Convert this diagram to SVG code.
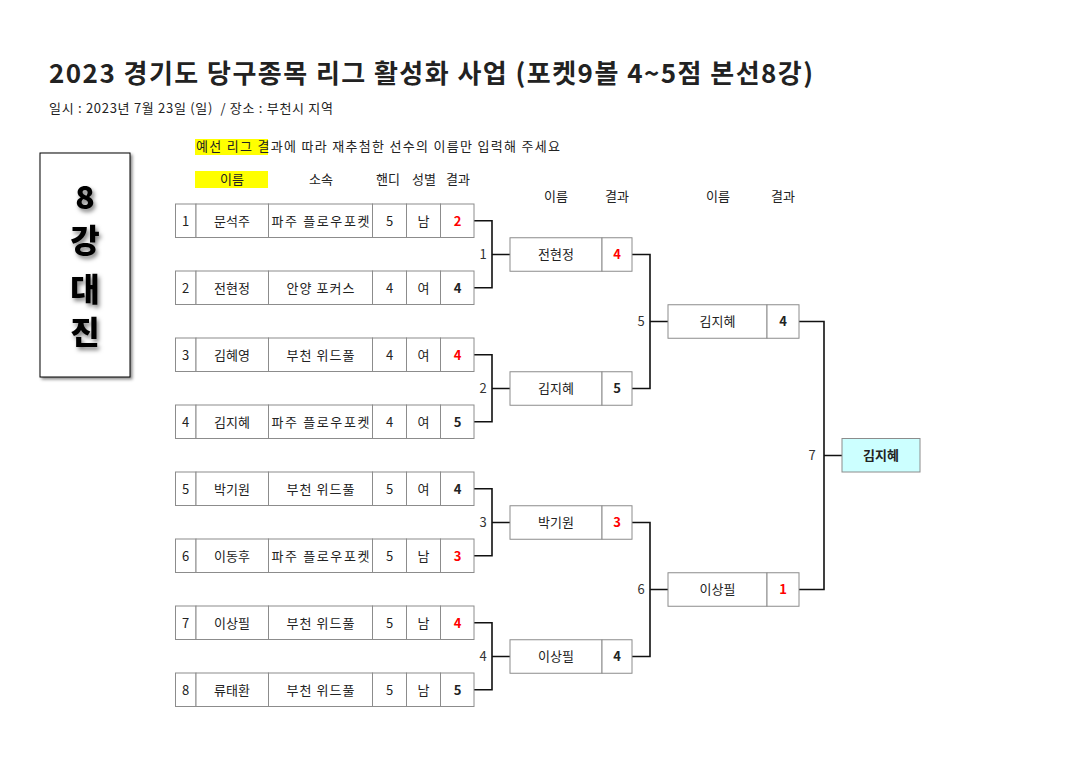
<svg xmlns="http://www.w3.org/2000/svg" width="1086" height="768" viewBox="0 0 1086 768">
<style>
text{font-family:"Noto Sans CJK KR","Noto Sans",sans-serif;fill:#222}
.t{font-size:13px;text-anchor:middle}
.b{font-weight:bold}
.r{fill:#ff0000}
.cell{fill:#fff;stroke:#8c8c8c;stroke-width:1}
.con{fill:none;stroke:#111;stroke-width:1.6}
.lbl{font-size:13px;text-anchor:middle;fill:#333}
.big{font-size:32px;font-weight:900;text-anchor:middle;fill:#000}
</style>
<defs>
<filter id="bs" x="-20%" y="-20%" width="140%" height="140%"><feDropShadow dx="2" dy="2" stdDeviation="1.5" flood-color="#000" flood-opacity="0.45"/></filter>
<filter id="ts" x="-30%" y="-30%" width="160%" height="160%"><feDropShadow dx="2" dy="3" stdDeviation="2" flood-color="#000" flood-opacity="0.5"/></filter>
</defs>
<rect width="1086" height="768" fill="#fff"/>
<text x="49" y="83" font-size="26" font-weight="bold" fill="#000" textLength="764" lengthAdjust="spacing">2023 경기도 당구종목 리그 활성화 사업 (포켓9볼 4~5점 본선8강)</text>
<text x="49" y="113" font-size="13" textLength="284" lengthAdjust="spacing" xml:space="preserve">일시 : 2023년 7월 23일 (일)  / 장소 : 부천시 지역</text>

<g id="title-box">
<rect x="40" y="153" width="90" height="224" fill="#fff" stroke="#000" stroke-width="1" filter="url(#bs)"/>
<g filter="url(#ts)">
<text class="big" x="85" y="209">8</text>
<text class="big" x="85" y="252">강</text>
<text class="big" x="85" y="300.5">대</text>
<text class="big" x="85" y="343.5">진</text>
</g>
</g>

<g id="headers">
<rect x="195" y="139" width="73" height="16" fill="#ffff00"/>
<text x="196" y="151" font-size="13" textLength="364" lengthAdjust="spacing">예선 리그 결과에 따라 재추첨한 선수의 이름만 입력해 주세요</text>
<rect x="195" y="171" width="73" height="17" fill="#ffff00"/>
<text class="t" x="232" y="184">이름</text>
<text class="t" x="321" y="184">소속</text>
<text class="t" x="388" y="184">핸디</text>
<text class="t" x="424" y="184">성별</text>
<text class="t" x="458" y="184">결과</text>
<text class="t" x="556" y="201">이름</text>
<text class="t" x="617" y="201">결과</text>
<text class="t" x="718" y="201">이름</text>
<text class="t" x="783" y="201">결과</text>
</g>

<g id="connectors">
<path class="con" d="M474 220.75H492V287.75H474M492 254.5H510"/>
<path class="con" d="M474 354.75H492V421.75H474M492 388.5H510"/>
<path class="con" d="M474 488.75H492V555.75H474M492 522.5H510"/>
<path class="con" d="M474 622.75H492V689.75H474M492 656.5H510"/>
<path class="con" d="M632 254.5H650V388.5H632M650 321.5H668"/>
<path class="con" d="M632 522.5H650V656.5H632M650 589.5H668"/>
<path class="con" d="M799 321.5H824V589.5H799M824 455.5H842"/>
<text class="lbl" x="483" y="259">1</text>
<text class="lbl" x="483" y="393">2</text>
<text class="lbl" x="483" y="527">3</text>
<text class="lbl" x="483" y="661">4</text>
<text class="lbl" x="641" y="326">5</text>
<text class="lbl" x="641" y="594">6</text>
<text class="lbl" x="812" y="460">7</text>
</g>

<g id="p1" transform="translate(0,204)">
<rect class="cell" x="175.5" y="0" width="20.5" height="33.5"/><rect class="cell" x="196" y="0" width="72.5" height="33.5"/><rect class="cell" x="268.5" y="0" width="104" height="33.5"/><rect class="cell" x="372.5" y="0" width="34" height="33.5"/><rect class="cell" x="406.5" y="0" width="34" height="33.5"/><rect class="cell" x="440.5" y="0" width="33.5" height="33.5"/>
<text class="t" x="185.5" y="21.5">1</text><text class="t" x="232" y="21.5">문석주</text><text class="t" x="320.5" y="21.5" textLength="98" lengthAdjust="spacing">파주 플로우포켓</text><text class="t" x="389.5" y="21.5">5</text><text class="t" x="423.5" y="21.5">남</text><text class="t b r" x="457.5" y="21.5">2</text>
</g>
<g id="p2" transform="translate(0,271)">
<rect class="cell" x="175.5" y="0" width="20.5" height="33.5"/><rect class="cell" x="196" y="0" width="72.5" height="33.5"/><rect class="cell" x="268.5" y="0" width="104" height="33.5"/><rect class="cell" x="372.5" y="0" width="34" height="33.5"/><rect class="cell" x="406.5" y="0" width="34" height="33.5"/><rect class="cell" x="440.5" y="0" width="33.5" height="33.5"/>
<text class="t" x="185.5" y="21.5">2</text><text class="t" x="232" y="21.5">전현정</text><text class="t" x="320.5" y="21.5" textLength="68" lengthAdjust="spacing">안양 포커스</text><text class="t" x="389.5" y="21.5">4</text><text class="t" x="423.5" y="21.5">여</text><text class="t b" x="457.5" y="21.5">4</text>
</g>
<g id="p3" transform="translate(0,338)">
<rect class="cell" x="175.5" y="0" width="20.5" height="33.5"/><rect class="cell" x="196" y="0" width="72.5" height="33.5"/><rect class="cell" x="268.5" y="0" width="104" height="33.5"/><rect class="cell" x="372.5" y="0" width="34" height="33.5"/><rect class="cell" x="406.5" y="0" width="34" height="33.5"/><rect class="cell" x="440.5" y="0" width="33.5" height="33.5"/>
<text class="t" x="185.5" y="21.5">3</text><text class="t" x="232" y="21.5">김혜영</text><text class="t" x="320.5" y="21.5" textLength="68" lengthAdjust="spacing">부천 위드풀</text><text class="t" x="389.5" y="21.5">4</text><text class="t" x="423.5" y="21.5">여</text><text class="t b r" x="457.5" y="21.5">4</text>
</g>
<g id="p4" transform="translate(0,405)">
<rect class="cell" x="175.5" y="0" width="20.5" height="33.5"/><rect class="cell" x="196" y="0" width="72.5" height="33.5"/><rect class="cell" x="268.5" y="0" width="104" height="33.5"/><rect class="cell" x="372.5" y="0" width="34" height="33.5"/><rect class="cell" x="406.5" y="0" width="34" height="33.5"/><rect class="cell" x="440.5" y="0" width="33.5" height="33.5"/>
<text class="t" x="185.5" y="21.5">4</text><text class="t" x="232" y="21.5">김지혜</text><text class="t" x="320.5" y="21.5" textLength="98" lengthAdjust="spacing">파주 플로우포켓</text><text class="t" x="389.5" y="21.5">4</text><text class="t" x="423.5" y="21.5">여</text><text class="t b" x="457.5" y="21.5">5</text>
</g>
<g id="p5" transform="translate(0,472)">
<rect class="cell" x="175.5" y="0" width="20.5" height="33.5"/><rect class="cell" x="196" y="0" width="72.5" height="33.5"/><rect class="cell" x="268.5" y="0" width="104" height="33.5"/><rect class="cell" x="372.5" y="0" width="34" height="33.5"/><rect class="cell" x="406.5" y="0" width="34" height="33.5"/><rect class="cell" x="440.5" y="0" width="33.5" height="33.5"/>
<text class="t" x="185.5" y="21.5">5</text><text class="t" x="232" y="21.5">박기원</text><text class="t" x="320.5" y="21.5" textLength="68" lengthAdjust="spacing">부천 위드풀</text><text class="t" x="389.5" y="21.5">5</text><text class="t" x="423.5" y="21.5">여</text><text class="t b" x="457.5" y="21.5">4</text>
</g>
<g id="p6" transform="translate(0,539)">
<rect class="cell" x="175.5" y="0" width="20.5" height="33.5"/><rect class="cell" x="196" y="0" width="72.5" height="33.5"/><rect class="cell" x="268.5" y="0" width="104" height="33.5"/><rect class="cell" x="372.5" y="0" width="34" height="33.5"/><rect class="cell" x="406.5" y="0" width="34" height="33.5"/><rect class="cell" x="440.5" y="0" width="33.5" height="33.5"/>
<text class="t" x="185.5" y="21.5">6</text><text class="t" x="232" y="21.5">이동후</text><text class="t" x="320.5" y="21.5" textLength="98" lengthAdjust="spacing">파주 플로우포켓</text><text class="t" x="389.5" y="21.5">5</text><text class="t" x="423.5" y="21.5">남</text><text class="t b r" x="457.5" y="21.5">3</text>
</g>
<g id="p7" transform="translate(0,606)">
<rect class="cell" x="175.5" y="0" width="20.5" height="33.5"/><rect class="cell" x="196" y="0" width="72.5" height="33.5"/><rect class="cell" x="268.5" y="0" width="104" height="33.5"/><rect class="cell" x="372.5" y="0" width="34" height="33.5"/><rect class="cell" x="406.5" y="0" width="34" height="33.5"/><rect class="cell" x="440.5" y="0" width="33.5" height="33.5"/>
<text class="t" x="185.5" y="21.5">7</text><text class="t" x="232" y="21.5">이상필</text><text class="t" x="320.5" y="21.5" textLength="68" lengthAdjust="spacing">부천 위드풀</text><text class="t" x="389.5" y="21.5">5</text><text class="t" x="423.5" y="21.5">남</text><text class="t b r" x="457.5" y="21.5">4</text>
</g>
<g id="p8" transform="translate(0,673)">
<rect class="cell" x="175.5" y="0" width="20.5" height="33.5"/><rect class="cell" x="196" y="0" width="72.5" height="33.5"/><rect class="cell" x="268.5" y="0" width="104" height="33.5"/><rect class="cell" x="372.5" y="0" width="34" height="33.5"/><rect class="cell" x="406.5" y="0" width="34" height="33.5"/><rect class="cell" x="440.5" y="0" width="33.5" height="33.5"/>
<text class="t" x="185.5" y="21.5">8</text><text class="t" x="232" y="21.5">류태환</text><text class="t" x="320.5" y="21.5" textLength="68" lengthAdjust="spacing">부천 위드풀</text><text class="t" x="389.5" y="21.5">5</text><text class="t" x="423.5" y="21.5">남</text><text class="t b" x="457.5" y="21.5">5</text>
</g>

<g id="r2-1" transform="translate(0,237.75)">
<rect class="cell" x="510" y="0" width="92" height="33.5"/><rect class="cell" x="602" y="0" width="30" height="33.5"/>
<text class="t" x="556" y="21.5">전현정</text><text class="t b r" x="617" y="21.5">4</text>
</g>
<g id="r2-2" transform="translate(0,371.75)">
<rect class="cell" x="510" y="0" width="92" height="33.5"/><rect class="cell" x="602" y="0" width="30" height="33.5"/>
<text class="t" x="556" y="21.5">김지혜</text><text class="t b" x="617" y="21.5">5</text>
</g>
<g id="r2-3" transform="translate(0,505.75)">
<rect class="cell" x="510" y="0" width="92" height="33.5"/><rect class="cell" x="602" y="0" width="30" height="33.5"/>
<text class="t" x="556" y="21.5">박기원</text><text class="t b r" x="617" y="21.5">3</text>
</g>
<g id="r2-4" transform="translate(0,639.75)">
<rect class="cell" x="510" y="0" width="92" height="33.5"/><rect class="cell" x="602" y="0" width="30" height="33.5"/>
<text class="t" x="556" y="21.5">이상필</text><text class="t b" x="617" y="21.5">4</text>
</g>
<g id="r3-1" transform="translate(0,304.75)">
<rect class="cell" x="668" y="0" width="99" height="33.5"/><rect class="cell" x="767" y="0" width="32" height="33.5"/>
<text class="t" x="717.5" y="21.5">김지혜</text><text class="t b" x="783" y="21.5">4</text>
</g>
<g id="r3-2" transform="translate(0,572.75)">
<rect class="cell" x="668" y="0" width="99" height="33.5"/><rect class="cell" x="767" y="0" width="32" height="33.5"/>
<text class="t" x="717.5" y="21.5">이상필</text><text class="t b r" x="783" y="21.5">1</text>
</g>
<g id="winner">
<rect x="842" y="438.5" width="78" height="33.5" fill="#ccffff" stroke="#8c8c8c" stroke-width="1"/>
<text class="t b" x="881" y="460">김지혜</text>
</g>
</svg>
